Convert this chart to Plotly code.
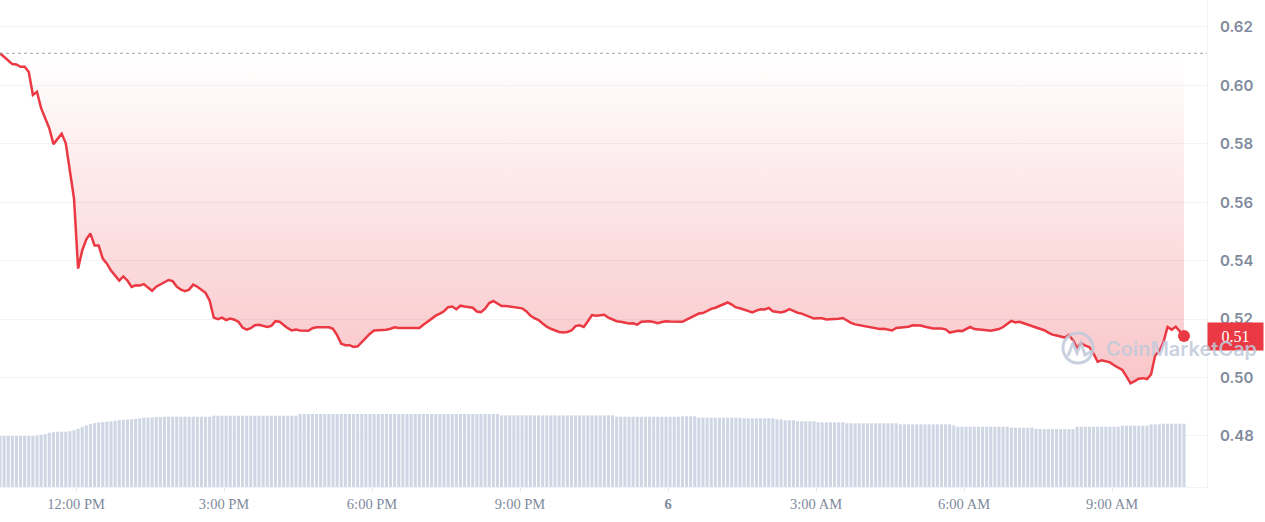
import pandas as pd
import plotly.graph_objects as go

# ---------------- data ----------------
start_time = "2023-12-05 10:27:30"
n_points = 289

prices = [
    0.6110, 0.6098, 0.6084, 0.6073, 0.6072, 0.6064, 0.6064, 0.6046, 0.5967, 0.5978,
    0.5922, 0.5884, 0.5853, 0.5799, 0.5816, 0.5835, 0.5802, 0.5702, 0.5613, 0.5373,
    0.5435, 0.5473, 0.5493, 0.5452, 0.5452, 0.5407, 0.5390, 0.5366, 0.5349, 0.5332,
    0.5346, 0.5332, 0.5310, 0.5316, 0.5315, 0.5320, 0.5308, 0.5297, 0.5311, 0.5318,
    0.5325, 0.5334, 0.5330, 0.5311, 0.5301, 0.5296, 0.5301, 0.5318, 0.5311, 0.5301,
    0.5290, 0.5263, 0.5205, 0.5200, 0.5205, 0.5197, 0.5202, 0.5198, 0.5191, 0.5171,
    0.5164, 0.5169, 0.5179, 0.5181, 0.5176, 0.5173, 0.5177, 0.5193, 0.5191, 0.5179,
    0.5169, 0.5161, 0.5164, 0.5161, 0.5160, 0.5160, 0.5169, 0.5172, 0.5172, 0.5172,
    0.5172, 0.5167, 0.5145, 0.5116, 0.5111, 0.5111, 0.5105, 0.5107, 0.5122, 0.5136,
    0.5150, 0.5161, 0.5162, 0.5161, 0.5164, 0.5167, 0.5172, 0.5170, 0.5170, 0.5170,
    0.5170, 0.5170, 0.5170, 0.5181, 0.5192, 0.5203, 0.5212, 0.5219, 0.5227, 0.5241,
    0.5243, 0.5234, 0.5246, 0.5243, 0.5240, 0.5239, 0.5226, 0.5224, 0.5236, 0.5255,
    0.5262, 0.5253, 0.5245, 0.5245, 0.5243, 0.5240, 0.5238, 0.5237, 0.5227, 0.5212,
    0.5203, 0.5197, 0.5185, 0.5174, 0.5167, 0.5161, 0.5156, 0.5154, 0.5156, 0.5161,
    0.5176, 0.5179, 0.5173, 0.5193, 0.5214, 0.5212, 0.5214, 0.5215, 0.5205, 0.5198,
    0.5193, 0.5191, 0.5188, 0.5185, 0.5186, 0.5181, 0.5191, 0.5192, 0.5193, 0.5190,
    0.5186, 0.5190, 0.5193, 0.5192, 0.5192, 0.5191, 0.5191, 0.5198, 0.5205, 0.5214,
    0.5219, 0.5221, 0.5229, 0.5235, 0.5239, 0.5245, 0.5253, 0.5257, 0.5250, 0.5240,
    0.5237, 0.5233, 0.5228, 0.5223, 0.5229, 0.5234, 0.5233, 0.5238, 0.5227, 0.5224,
    0.5223, 0.5227, 0.5234, 0.5228, 0.5222, 0.5219, 0.5214, 0.5207, 0.5202, 0.5203,
    0.5203, 0.5199, 0.5199, 0.5199, 0.5201, 0.5204, 0.5195, 0.5187, 0.5182, 0.5179,
    0.5176, 0.5174, 0.5171, 0.5168, 0.5166, 0.5167, 0.5164, 0.5161, 0.5170, 0.5172,
    0.5173, 0.5174, 0.5179, 0.5179, 0.5178, 0.5174, 0.5171, 0.5168, 0.5168, 0.5168,
    0.5165, 0.5154, 0.5157, 0.5160, 0.5159, 0.5167, 0.5173, 0.5166, 0.5165, 0.5165,
    0.5162, 0.5160, 0.5163, 0.5166, 0.5173, 0.5185, 0.5194, 0.5189, 0.5191, 0.5186,
    0.5181, 0.5177, 0.5173, 0.5167, 0.5162, 0.5154, 0.5147, 0.5144, 0.5140, 0.5137,
    0.5146, 0.5128, 0.5101, 0.5118, 0.5109, 0.5104, 0.5082, 0.5054, 0.5059, 0.5056,
    0.5052, 0.5042, 0.5035, 0.5026, 0.5004, 0.4980, 0.4988, 0.4996, 0.4998, 0.4995,
    0.5011, 0.5076, 0.5090, 0.5121, 0.5173, 0.5164, 0.5174, 0.5159, 0.5142,
]

volumes = [
    104.7, 104.7, 104.7, 104.7, 104.7, 104.7, 104.7, 104.7, 104.7, 105.7,
    107.0, 108.2, 111.5, 112.5, 113.5, 113.5, 113.5, 114.5, 116.5, 119.5,
    123.0, 126.5, 129.5, 131.0, 132.5, 133.5, 134.0, 134.8, 136.0, 137.4,
    138.0, 138.8, 139.2, 140.0, 141.0, 142.3, 142.6, 143.0, 143.4, 143.7,
    144.0, 144.3, 144.3, 144.3, 144.3, 144.3, 144.3, 144.3, 144.3, 144.3,
    144.3, 144.3, 146.4, 146.4, 146.4, 146.4, 146.4, 146.4, 146.4, 146.4,
    146.4, 146.4, 146.4, 146.4, 146.4, 146.4, 146.4, 146.4, 146.4, 146.4,
    146.4, 146.4, 146.4, 149.9, 149.9, 149.9, 149.9, 149.9, 149.9, 149.9,
    149.9, 149.9, 149.9, 149.9, 149.9, 149.9, 149.9, 149.9, 149.9, 149.9,
    149.9, 149.9, 149.9, 149.9, 149.9, 149.9, 149.9, 149.9, 149.9, 149.9,
    149.9, 149.9, 149.9, 149.9, 149.9, 149.9, 149.9, 149.9, 149.9, 149.9,
    149.9, 149.9, 149.9, 149.9, 149.9, 149.9, 149.9, 149.9, 149.9, 149.9,
    149.9, 149.9, 147.2, 147.2, 147.2, 147.2, 147.2, 147.2, 147.2, 147.2,
    147.2, 147.2, 147.2, 147.2, 147.2, 147.2, 147.2, 147.2, 147.2, 147.2,
    147.2, 147.2, 147.2, 147.2, 147.2, 147.2, 147.2, 147.2, 147.2, 147.2,
    144.3, 144.3, 144.3, 144.3, 144.3, 144.3, 144.3, 144.3, 144.3, 144.3,
    144.3, 144.3, 144.3, 144.3, 144.3, 144.3, 145.2, 145.2, 145.2, 145.2,
    142.3, 142.3, 142.3, 142.3, 142.3, 142.3, 142.3, 142.3, 142.3, 142.3,
    142.3, 141.1, 141.1, 141.1, 141.1, 141.1, 141.1, 141.1, 141.1, 139.0,
    139.0, 137.0, 137.0, 137.0, 134.9, 134.9, 134.9, 134.9, 134.9, 132.8,
    132.8, 132.8, 132.8, 132.8, 132.8, 132.8, 130.8, 130.8, 130.8, 130.8,
    130.8, 130.8, 130.8, 130.8, 130.8, 130.8, 130.8, 130.8, 130.8, 128.7,
    128.7, 128.7, 128.7, 128.7, 128.7, 128.7, 128.7, 128.7, 128.7, 128.7,
    128.7, 128.7, 126.7, 123.8, 123.8, 123.8, 123.8, 123.8, 123.8, 123.8,
    123.8, 123.8, 123.8, 123.8, 123.8, 123.8, 121.8, 121.8, 121.8, 121.8,
    121.8, 121.8, 119.1, 119.1, 119.1, 119.1, 119.1, 119.1, 119.1, 119.1,
    119.1, 119.1, 123.8, 123.8, 123.8, 123.8, 123.8, 123.8, 123.8, 123.8,
    123.8, 123.8, 123.8, 125.9, 125.9, 125.9, 125.9, 125.9, 125.9, 125.9,
    128.7, 128.7, 128.7, 130.0, 130.0, 130.0, 130.0, 130.0, 130.0,
]

open_price = 0.6110
last_label = "0.51"

tick_times = ["2023-12-05 12:00", "2023-12-05 15:00", "2023-12-05 18:00",
              "2023-12-05 21:00", "2023-12-06 00:00", "2023-12-06 03:00",
              "2023-12-06 06:00", "2023-12-06 09:00"]
tick_labels = ["12:00 PM", "3:00 PM", "6:00 PM", "9:00 PM", "<b>6</b>",
               "3:00 AM", "6:00 AM", "9:00 AM"]
price_ticks = [0.48, 0.50, 0.52, 0.54, 0.56, 0.58, 0.60, 0.62]

assert len(prices) == n_points, len(prices)
assert len(volumes) == n_points, len(volumes)

times = pd.date_range(start=start_time, periods=n_points, freq="5min")
x_end = pd.Timestamp(start_time) + pd.Timedelta(minutes=1468)

# ---------------- styling ----------------
RED = "#ea3943"
GRID = "#f2f3f6"
LABEL = "#808a9d"
BAR = "#cfd6e4"
WM = "rgba(192,201,218,0.85)"

fig = go.Figure()

fig.add_trace(go.Bar(
    x=times, y=volumes, yaxis="y2",
    marker=dict(color=BAR, line=dict(width=0)),
    hoverinfo="skip", showlegend=False,
))

# baseline (opening price) for the fill
fig.add_trace(go.Scatter(
    x=times, y=[open_price] * n_points, mode="lines",
    line=dict(width=0, color="rgba(0,0,0,0)"),
    hoverinfo="skip", showlegend=False,
))

fig.add_trace(go.Scatter(
    x=times, y=prices, mode="lines",
    line=dict(color=RED, width=2.5),
    fill="tonexty",
    fillgradient=dict(
        type="vertical",
        colorscale=[[0, "rgba(234,57,67,0.29)"], [1, "rgba(234,57,67,0.0)"]],
    ),
    showlegend=False,
))

fig.add_trace(go.Scatter(
    x=[times[-1]], y=[prices[-1]], mode="markers",
    marker=dict(color=RED, size=12),
    showlegend=False,
))

fig.add_hline(y=open_price, line=dict(color="#9aa1ae", width=1, dash="dot"))

PLOT_W, PLOT_H = 1207, 487


def px(xp, yp):
    return xp / PLOT_W, 1 - yp / PLOT_H


# price label box
fig.add_annotation(
    x=1, xref="paper", xanchor="left", y=prices[-1], yref="y", yanchor="middle",
    text=last_label, showarrow=False,
    font=dict(family="Liberation Serif", size=16, color="white"),
    bgcolor=RED, width=49, height=21, borderpad=3, align="center",
)

# watermark
cx0, cy0 = px(1063, 333)
cx1, cy1 = px(1093, 363)
fig.add_shape(type="circle", xref="paper", yref="paper",
              x0=cx0, y0=cy1, x1=cx1, y1=cy0,
              line=dict(color=WM, width=3))
pts = [(1068, 356), (1073, 343), (1077, 353), (1081, 343), (1085, 355), (1092, 351)]
path = "M " + " L ".join(f"{px(a, b)[0]:.5f},{px(a, b)[1]:.5f}" for a, b in pts)
fig.add_shape(type="path", xref="paper", yref="paper", path=path,
              line=dict(color=WM, width=3))
tx, ty = px(1104, 349)
fig.add_annotation(
    x=tx, xref="paper", xanchor="left", y=ty, yref="paper", yanchor="middle",
    text="CoinMarketCap", showarrow=False,
    font=dict(family="Inter", size=20, color=WM, weight=600),
)

fig.update_layout(
    width=1265, height=522,
    margin=dict(l=0, r=58, t=0, b=35, autoexpand=False),
    paper_bgcolor="white", plot_bgcolor="white",
    bargap=0.25,
    xaxis=dict(
        range=[times[0], x_end],
        tickvals=pd.to_datetime(tick_times), ticktext=tick_labels,
        showgrid=False, zeroline=False,
        showline=True, linecolor=GRID, linewidth=1,
        ticks="outside", ticklen=4, tickcolor="#e6e8ec",
        tickfont=dict(family="Liberation Serif", size=14.5, color=LABEL),
    ),
    yaxis=dict(
        side="right", range=[0.46254, 0.62924],
        tickvals=price_ticks, ticktext=[f"{v:.2f}" for v in price_ticks],
        showgrid=True, gridcolor=GRID, gridwidth=1, zeroline=False,
        showline=True, linecolor=GRID, linewidth=1,
        ticks="outside", ticklen=9, tickcolor="rgba(0,0,0,0)",
        tickfont=dict(family="Inter", size=15, color=LABEL, weight=600),
    ),
    yaxis2=dict(overlaying="y", range=[0, 1000], visible=False),
)

fig.write_html(
    "out.html",
    config={"displayModeBar": False},
    post_script="document.body.style.margin='0';document.body.style.overflow='hidden';",
)
